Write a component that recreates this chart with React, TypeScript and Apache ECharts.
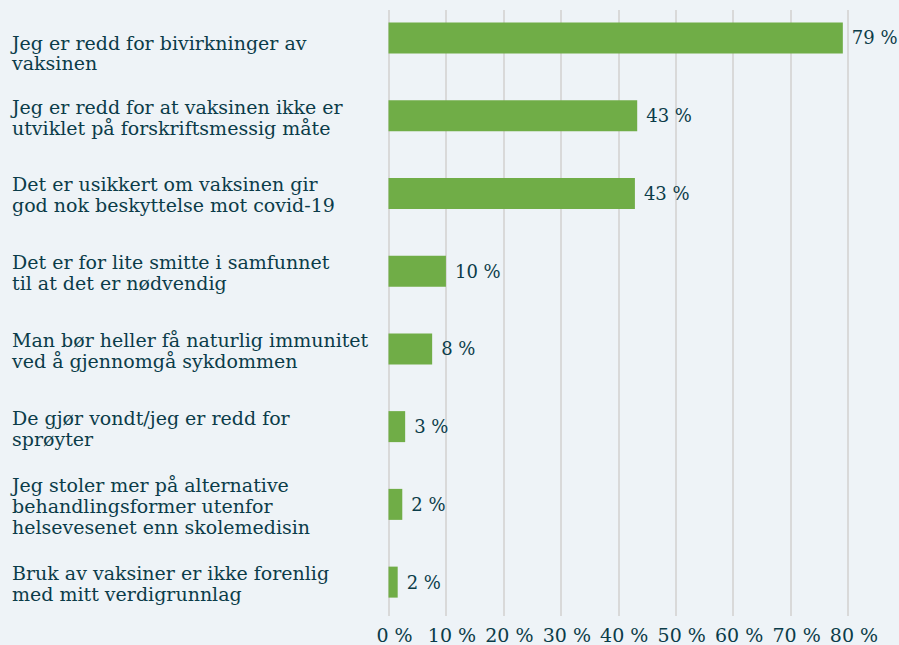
import React, { useEffect, useRef } from "react";
import * as echarts from "echarts";

const categories = [
  "Jeg er redd for bivirkninger av\nvaksinen",
  "Jeg er redd for at vaksinen ikke er\nutviklet på forskriftsmessig måte",
  "Det er usikkert om vaksinen gir\ngod nok beskyttelse mot covid-19",
  "Det er for lite smitte i samfunnet\ntil at det er nødvendig",
  "Man bør heller få naturlig immunitet\nved å gjennomgå sykdommen",
  "De gjør vondt/jeg er redd for\nsprøyter",
  "Jeg stoler mer på alternative\nbehandlingsformer utenfor\nhelsevesenet enn skolemedisin",
  "Bruk av vaksiner er ikke forenlig\nmed mitt verdigrunnlag",
];

const values = [79.1, 43.3, 42.9, 10, 7.6, 2.9, 2.4, 1.6];

const axisMin = 0;
const axisMax = 80;
const axisStep = 10;

const FONT = "DejaVu Serif";
const TEXT = "#0b3c49";

export default function App() {
  const ref = useRef<HTMLDivElement>(null);
  useEffect(() => {
    if (!ref.current) return;
    const chart = echarts.init(ref.current, null, { renderer: "svg" });
    const tok = { fontFamily: FONT, fontSize: 19, lineHeight: 21, color: TEXT, align: "left" };
    chart.setOption({
      animation: false,
      backgroundColor: "#eef3f7",
      textStyle: { fontFamily: FONT, color: TEXT },
      grid: [
        { left: 388.5, right: 51, top: -1, height: 622, outerBoundsMode: "none", containLabel: false },
        { left: 388.5, right: 51, top: 10, bottom: 29, outerBoundsMode: "none", containLabel: false },
      ],
      xAxis: [
        {
          gridIndex: 0,
          type: "value",
          min: axisMin,
          max: axisMax,
          show: false,
        },
        {
          gridIndex: 1,
          type: "value",
          min: axisMin,
          max: axisMax,
          interval: axisStep,
          axisLine: { show: false },
          axisTick: { show: false },
          splitLine: { show: true, lineStyle: { color: "#d9d9d9", width: 2 } },
          axisLabel: {
            formatter: "{value} %",
            fontFamily: FONT,
            fontSize: 19,
            color: TEXT,
            margin: 9,
            padding: [0, 0, 0, 12],
          },
        },
      ],
      yAxis: [
        {
          gridIndex: 0,
          type: "category",
          data: categories,
          inverse: true,
          axisLine: { show: false },
          axisTick: { show: false },
          splitLine: { show: false },
          axisLabel: {
            align: "left",
            margin: 376.5,
            fontFamily: FONT,
            fontSize: 19,
            lineHeight: 21,
            color: TEXT,
            padding: [3, 0, 0, 0],
            formatter: (v: string, i: number) => {
              if (i !== 0) return v;
              const lines = v.split("\n");
              return lines
                .map((l, k) => (k === 0 ? `{p|${l}}` : `{n|${l}}`))
                .join("\n");
            },
            rich: {
              p: { ...tok, lineHeight: 47, verticalAlign: "bottom" },
              n: { ...tok },
            },
          },
        },
        {
          gridIndex: 1,
          type: "value",
          show: false,
        },
      ],
      series: [
        {
          type: "bar",
          xAxisIndex: 0,
          yAxisIndex: 0,
          data: values,
          barWidth: 31,
          itemStyle: { color: "#70ad47" },
          label: {
            show: true,
            position: "right",
            distance: 9,
            formatter: (p: any) => `${Math.round(p.value)} %`,
            fontFamily: FONT,
            fontSize: 18,
            color: TEXT,
          },
        },
      ],
    });
    return () => chart.dispose();
  }, []);
  return (
    <div
      ref={ref}
      style={{ position: "fixed", left: 0, top: 0, width: 899, height: 645 }}
    />
  );
}
